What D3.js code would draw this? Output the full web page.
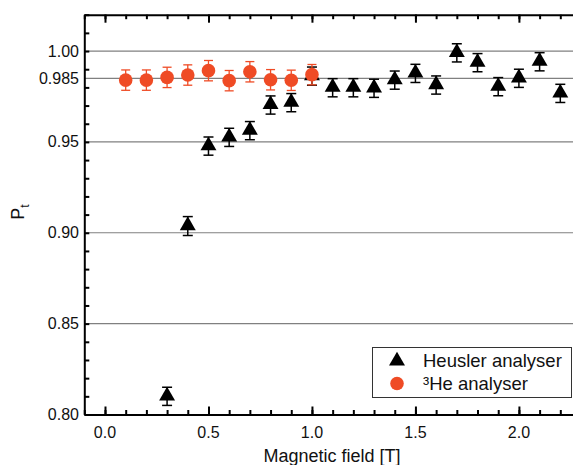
<!DOCTYPE html>
<html lang="en">
<head>
	<meta charset="UTF-8">
	<title>Pt vs magnetic field</title>
	<style>
		body{ margin:0; background:#fff; }
		svg text{ font-family: "Liberation Sans", Arial, sans-serif; fill:#111; }
		.axis path{ stroke:#000; stroke-width:2; }
		.axis line{ stroke:#000; stroke-width:2; }
		.grid line{ stroke:#808080; stroke-width:1.2; }
	</style>
</head>
<body>
	<script src="https://d3js.org/d3.v7.min.js"></script>
	<script>
		// Heusler analyser (triangles)
		var heuslerField = [0.3,0.4,0.5,0.6,0.7,0.8,0.9,1.0,1.1,1.2,1.3,1.4,1.5,1.6,1.7,1.8,1.9,2.0,2.1,2.2];
		var heuslerPt    = [0.8100,0.9037,0.9477,0.9525,0.9562,0.9703,0.9716,0.9862,0.9798,0.9798,0.9795,0.9840,0.9877,0.9813,0.9990,0.9936,0.9804,0.9850,0.9941,0.9767];
		var heuslerErr   = [0.005,0.0052,0.005,0.005,0.005,0.005,0.005,0.005,0.005,0.005,0.005,0.005,0.005,0.005,0.005,0.005,0.005,0.005,0.005,0.005];
		// 3He analyser (circles)
		var heField = [0.1,0.2,0.3,0.4,0.5,0.6,0.7,0.8,0.9,1.0];
		var hePt    = [0.9840,0.9840,0.9855,0.9868,0.9892,0.9837,0.9886,0.9842,0.9839,0.9870];
		var heErr   = [0.0056,0.0056,0.0056,0.0056,0.0056,0.0056,0.0056,0.0056,0.0056,0.0056];

		var yLabels = [0.80,0.85,0.90,0.95,0.985,1.00];
		var xLabels = [0.0,0.5,1.0,1.5,2.0];
		var legendNames = ['Heusler analyser','\u00B3He analyser'];

		var width = 573, height = 465;
		var orange = '#ef4b25';

		var x = d3.scaleLinear().domain([-0.1, 2.3]).range([84.3, 581]);
		var y = d3.scaleLinear().domain([0.80, 1.02]).range([414.5, 14.7]);

		var svg = d3.select('body').append('svg')
			.attr('width', width)
			.attr('height', height);

		// grid lines
		svg.append('g').attr('class','grid')
			.selectAll('line')
			.data(yLabels.filter(function(d){ return d > 0.8; }))
			.enter().append('line')
			.attr('x1', x(-0.1)).attr('x2', x(2.3))
			.attr('y1', function(d){ return y(d); })
			.attr('y2', function(d){ return y(d); });

		var minorX = d3.range(-0.1, 2.31, 0.1).map(function(d){ return Math.round(d*10)/10; });
		var minorY = d3.range(0.80, 1.021, 0.01).map(function(d){ return Math.round(d*100)/100; });

		// bottom axis: minor + major ticks pointing inward
		svg.append('g').attr('class','axis').attr('transform','translate(0,' + y(0.80) + ')')
			.call(d3.axisBottom(x).tickValues(minorX).tickSizeInner(-4.5).tickSizeOuter(0).tickFormat(''));
		svg.append('g').attr('class','axis').attr('transform','translate(0,' + y(0.80) + ')')
			.call(d3.axisBottom(x).tickValues(xLabels).tickSizeInner(-8).tickSizeOuter(0).tickFormat(''))
			.select('.domain').remove();
		// top axis
		svg.append('g').attr('class','axis').attr('transform','translate(0,' + y(1.02) + ')')
			.call(d3.axisTop(x).tickValues(minorX).tickSizeInner(-4.5).tickSizeOuter(0).tickFormat(''));
		svg.append('g').attr('class','axis').attr('transform','translate(0,' + y(1.02) + ')')
			.call(d3.axisTop(x).tickValues(xLabels).tickSizeInner(-8).tickSizeOuter(0).tickFormat(''))
			.select('.domain').remove();
		// left axis
		svg.append('g').attr('class','axis').attr('transform','translate(' + x(-0.1) + ',0)')
			.call(d3.axisLeft(y).tickValues(minorY).tickSizeInner(-5).tickSizeOuter(0).tickFormat(''));

		// tick labels
		svg.append('g').selectAll('text')
			.data(xLabels).enter().append('text')
			.attr('x', function(d){ return x(d); })
			.attr('y', 438)
			.attr('text-anchor','middle')
			.style('font-size','16px')
			.text(function(d){ return d3.format('.1f')(d); });

		svg.append('g').selectAll('text')
			.data(yLabels).enter().append('text')
			.attr('x', 79)
			.attr('y', function(d){ return y(d) + 5.5; })
			.attr('text-anchor','end')
			.style('font-size','16px')
			.text(function(d){ return d === 0.985 ? '0.985' : d3.format('.2f')(d); });

		// axis titles
		svg.append('text')
			.attr('x', 332).attr('y', 462)
			.attr('text-anchor','middle')
			.style('font-size','18px')
			.text('Magnetic field [T]');

		var yt = svg.append('text')
			.attr('transform','translate(24,212) rotate(-90)')
			.attr('text-anchor','middle')
			.style('font-size','18px');
		yt.append('tspan').text('P');
		yt.append('tspan').attr('dy', 5).style('font-size','12px').text('t');

		var plot = svg.append('g');
		var heusler = heuslerField.map(function(f,i){ return {x:f, y:heuslerPt[i], e:heuslerErr[i]}; });
		var he3 = heField.map(function(f,i){ return {x:f, y:hePt[i], e:heErr[i]}; });

		function errorBars(g, data, color, cap, sw){
			var eb = g.append('g').selectAll('g').data(data).enter().append('g')
				.attr('stroke', color).attr('stroke-width', sw);
			eb.append('line')
				.attr('x1', function(d){ return x(d.x); }).attr('x2', function(d){ return x(d.x); })
				.attr('y1', function(d){ return y(d.y - d.e); }).attr('y2', function(d){ return y(d.y + d.e); });
			eb.append('line')
				.attr('x1', function(d){ return x(d.x) - cap; }).attr('x2', function(d){ return x(d.x) + cap; })
				.attr('y1', function(d){ return y(d.y + d.e); }).attr('y2', function(d){ return y(d.y + d.e); });
			eb.append('line')
				.attr('x1', function(d){ return x(d.x) - cap; }).attr('x2', function(d){ return x(d.x) + cap; })
				.attr('y1', function(d){ return y(d.y - d.e); }).attr('y2', function(d){ return y(d.y - d.e); });
		}

		var tri = d3.symbol().type(d3.symbolTriangle).size(110);

		errorBars(plot, heusler, '#000', 5, 1.5);
		plot.append('g').selectAll('path').data(heusler).enter().append('path')
			.attr('d', tri)
			.attr('transform', function(d){ return 'translate(' + x(d.x) + ',' + (y(d.y) - 0.5) + ')'; })
			.attr('fill','#000');

		errorBars(plot, he3, orange, 4.5, 1.3);
		plot.append('g').selectAll('circle').data(he3).enter().append('circle')
			.attr('cx', function(d){ return x(d.x); })
			.attr('cy', function(d){ return y(d.y); })
			.attr('r', 6.8)
			.attr('fill', orange);

		// legend
		var lg = svg.append('g');
		lg.append('rect')
			.attr('x', 372.5).attr('y', 347.5).attr('width', 199).attr('height', 50)
			.attr('fill','#fff').attr('stroke','#333').attr('stroke-width',1);
		lg.append('path').attr('d', tri).attr('transform','translate(397,361)').attr('fill','#000');
		lg.append('circle').attr('cx',397).attr('cy',383.5).attr('r',6.8).attr('fill',orange);
		lg.selectAll('text.lab').data(legendNames).enter().append('text')
			.attr('x', 423)
			.attr('y', function(d,i){ return 367 + i*23; })
			.style('font-size','18.5px')
			.text(function(d){ return d; });
	</script>
</body>
</html>
